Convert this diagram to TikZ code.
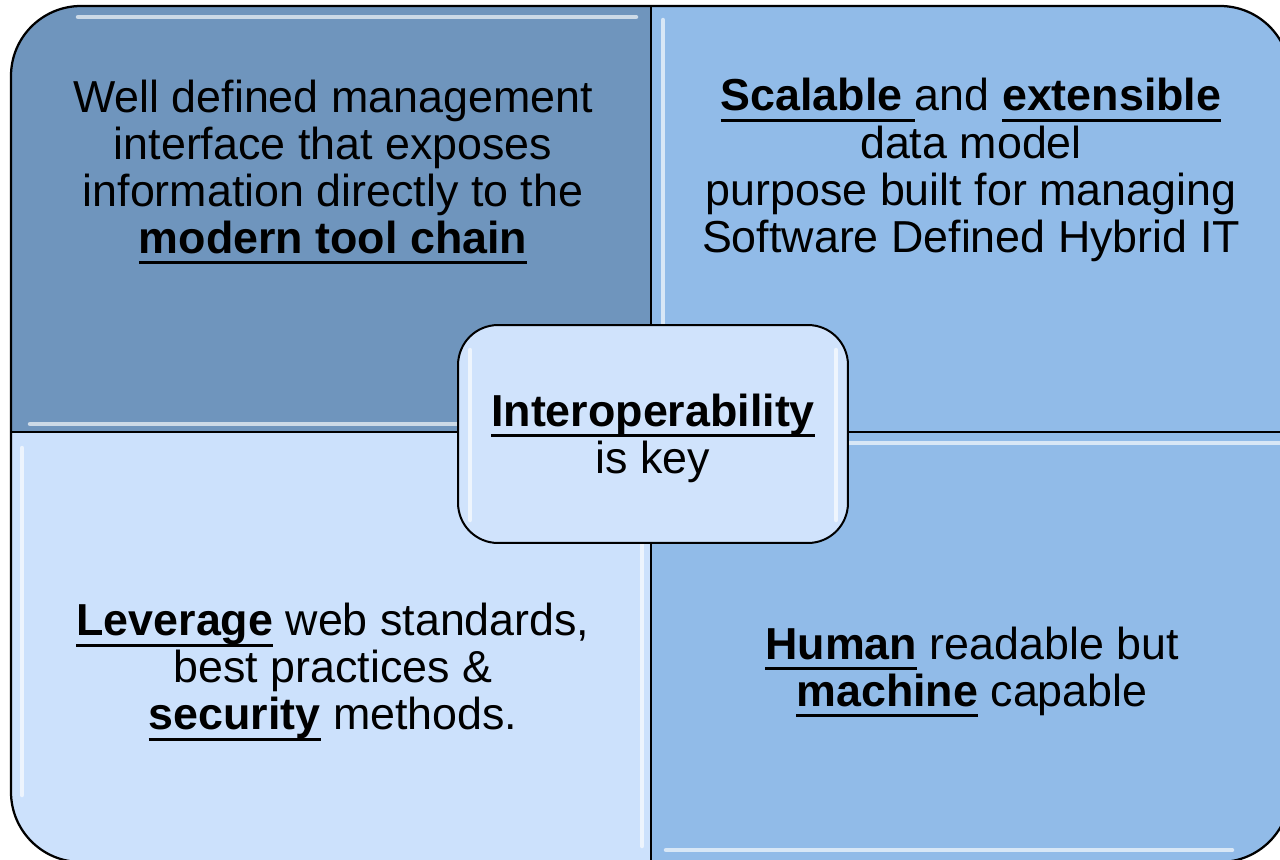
\documentclass[tikz,border=0pt]{standalone}
\usepackage{fontspec}
\setmainfont{Liberation Sans}
\newcommand{\keyword}[1]{{\bfseries\setbox0\hbox{#1}\rlap{\rule[-6.1pt]{\wd0}{1.6pt}}\box0}}
\definecolor{quadDark}{RGB}{111,149,189}
\definecolor{quadMid}{RGB}{145,187,232}
\definecolor{quadLight}{RGB}{204,225,252}
\definecolor{keyFill}{RGB}{208,227,252}

\begin{document}
\begin{tikzpicture}[x=0.02cm, y=-0.02cm,
    quadtext/.style={align=center, text=black, font=\fontsize{25.5}{26.8}\selectfont},
    gloss/.style={white, line width=0.09cm, opacity=0.65, line cap=round}]
    \useasboundingbox (0,0) rectangle (1280,859);
    \clip (0,0) rectangle (1280,859);
    % the four quadrants inside one rounded outline
    \begin{scope}
        \clip [rounded corners=1.4cm] (11,6) rectangle (1290,862);
        \fill [quadDark] (11,6) rectangle (651,432);
        \fill [quadMid] (651,6) rectangle (1290,432);
        \fill [quadLight] (11,432) rectangle (651,862);
        \fill [quadMid] (651,432) rectangle (1290,862);
        % glossy edges
        \draw [gloss] (78,17) -- (636,17);
        \draw [gloss] (30,424) -- (636,424);
        \draw [gloss] (663,20) -- (663,420);
        \draw [gloss] (664,443) -- (1290,443);
        \draw [gloss] (666,850) -- (1232,850);
        \draw [gloss] (22,448) -- (22,795);
        \draw [gloss] (642,448) -- (642,846);
    \end{scope}
    \draw [line width=0.04cm] (651,6) -- (651,862);
    \draw [line width=0.04cm] (11,432) -- (1290,432);
    \draw [line width=0.045cm, rounded corners=1.4cm] (11,6) rectangle (1290,862);

    \node [quadtext] (mgmt) at (333,172) {Well defined management\\ interface that exposes\\ information directly to the\\ \keyword{modern tool chain}};
    \node [quadtext] (model) at (971,170) {\keyword{Scalable\ }and \keyword{extensible}\\ data model\\ purpose built for managing\\ Software Defined Hybrid IT};
    \node [quadtext] (web) at (333,672) {\keyword{Leverage} web standards,\\ best practices \&\\ \keyword{security} methods.};
    \node [quadtext] (human) at (972,672) {\keyword{Human} readable but\\ \keyword{machine} capable};

    % centre box
    \node [draw, fill=keyFill, line width=0.04cm, rounded corners=0.8cm,
        minimum width=7.8cm, minimum height=4.36cm] (key) at (653,434) {};
    \draw [gloss] (470,350) -- (470,520);
    \draw [gloss] (836,350) -- (836,520);
    \node [quadtext, yshift=-0.08cm] (keytext) at (key.center) {\keyword{Interoperability}\\ is key};
\end{tikzpicture}
\end{document}
